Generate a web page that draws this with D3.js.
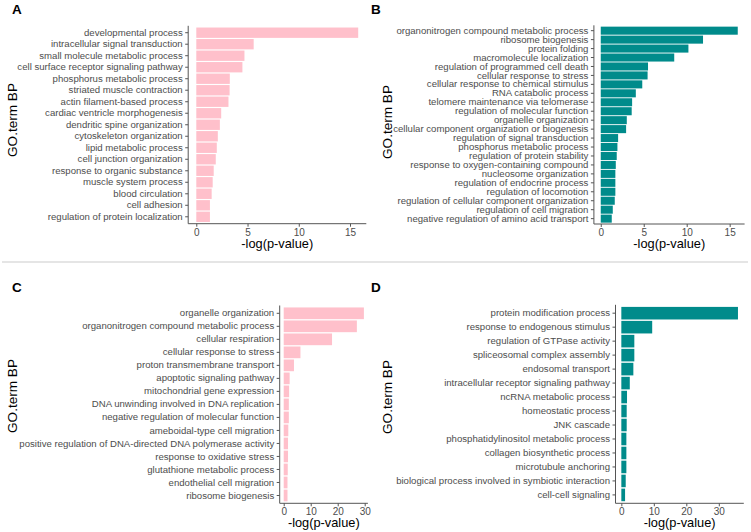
<!DOCTYPE html>
<html>
<head>
<meta charset="utf-8">
<script src="https://cdn.jsdelivr.net/npm/d3@7"></script>
<style>
  html, body { margin: 0; padding: 0; background: #fff; }
  svg { display: block; font-family: "Liberation Sans", Arial, sans-serif; }
</style>
</head>
<body>
<svg id="chart" width="751" height="532"></svg>
<script>
// ---- Data ----
const termsA = ["developmental process","intracellular signal transduction","small molecule metabolic process","cell surface receptor signaling pathway","phosphorus metabolic process","striated muscle contraction","actin filament-based process","cardiac ventricle morphogenesis","dendritic spine organization","cytoskeleton organization","lipid metabolic process","cell junction organization","response to organic substance","muscle system process","blood circulation","cell adhesion","regulation of protein localization"];
const valuesA = [15.8, 5.6, 4.7, 4.5, 3.27, 3.25, 3.14, 2.43, 2.3, 2.1, 2.0, 1.9, 1.7, 1.6, 1.5, 1.33, 1.33];

const termsB = ["organonitrogen compound metabolic process","ribosome biogenesis","protein folding","macromolecule localization","regulation of programmed cell death","cellular response to stress","cellular response to chemical stimulus","RNA catabolic process","telomere maintenance via telomerase","regulation of molecular function","organelle organization","cellular component organization or biogenesis","regulation of signal transduction","phosphorus metabolic process","regulation of protein stability","response to oxygen-containing compound","nucleosome organization","regulation of endocrine process","regulation of locomotion","regulation of cellular component organization","regulation of cell migration","negative regulation of amino acid transport"];
const valuesB = [15.94, 11.9, 10.2, 8.55, 5.5, 5.45, 4.83, 4.08, 3.65, 3.6, 3.03, 2.95, 2.02, 1.94, 1.86, 1.75, 1.7, 1.7, 1.7, 1.63, 1.4, 1.28];

const termsC = ["organelle organization","organonitrogen compound metabolic process","cellular respiration","cellular response to stress","proton transmembrane transport","apoptotic signaling pathway","mitochondrial gene expression","DNA unwinding involved in DNA replication","negative regulation of molecular function","ameboidal-type cell migration","positive regulation of DNA-directed DNA polymerase activity","response to oxidative stress","glutathione metabolic process","endothelial cell migration","ribosome biogenesis"];
const valuesC = [29.7, 27.1, 17.9, 6.2, 3.8, 2.2, 2.0, 1.9, 1.9, 1.7, 1.6, 1.6, 1.5, 1.4, 1.4];

const termsD = ["protein modification process","response to endogenous stimulus","regulation of GTPase activity","spliceosomal complex assembly","endosomal transport","intracellular receptor signaling pathway","ncRNA metabolic process","homeostatic process","JNK cascade","phosphatidylinositol metabolic process","collagen biosynthetic process","microtubule anchoring","biological process involved in symbiotic interaction","cell-cell signaling"];
const valuesD = [35.9, 9.5, 4.0, 4.0, 3.7, 2.6, 1.75, 1.65, 1.65, 1.55, 1.55, 1.55, 1.35, 1.15];

const ticksA = [0, 5, 10, 15];
const ticksB = [0, 5, 10, 15];
const ticksC = [0, 10, 20, 30];
const ticksD = [0, 10, 20, 30];

const PINK = "#FFC0CB", TEAL = "#008B8B";

// ---- Layout ----
const panels = [
  {letter:"A", terms:termsA, values:valuesA, ticks:ticksA, color:PINK,
   left:188.2, right:366.3, top:25.8, bottom:223.7, lx:12, ly:13.5, ytx:12.5, yty:120},
  {letter:"B", terms:termsB, values:valuesB, ticks:ticksB, color:TEAL,
   left:593.9, right:744.6, top:25.3, bottom:224, lx:371, ly:13.5, ytx:387.5, yty:122},
  {letter:"C", terms:termsC, values:valuesC, ticks:ticksC, color:PINK,
   left:279.7, right:367.9, top:305.5, bottom:503.3, lx:12, ly:292, ytx:12.5, yty:396},
  {letter:"D", terms:termsD, values:valuesD, ticks:ticksD, color:TEAL,
   left:615.5, right:743.8, top:304.8, bottom:503.3, lx:371, ly:292, ytx:387.5, yty:397}
];

const svg = d3.select("#chart");
const AXIS_COL = "#555555", TXT_COL = "#4D4D4D";

// separator line
svg.append("line").attr("x1", 2).attr("x2", 748).attr("y1", 262).attr("y2", 262)
  .attr("stroke", "#dcdcdc").attr("stroke-width", 1.5);

panels.forEach(p => {
  const g = svg.append("g");
  const maxV = d3.max(p.values);
  const x = d3.scaleLinear().domain([-0.05 * maxV, 1.05 * maxV]).range([p.left, p.right]);
  const y = d3.scaleBand().domain(p.terms).range([p.top, p.bottom]).paddingInner(0.1).paddingOuter(0.15);

  // bars
  g.selectAll("rect").data(p.terms).join("rect")
    .attr("x", x(0))
    .attr("y", d => y(d))
    .attr("width", (d, i) => x(p.values[i]) - x(0))
    .attr("height", y.bandwidth())
    .attr("fill", p.color);

  // y axis
  const yAxis = d3.axisLeft(y).tickSize(3).tickPadding(2.5);
  const yg = g.append("g").attr("transform", `translate(${p.left},0)`).call(yAxis);
  yg.select(".domain").attr("stroke", AXIS_COL).attr("d", `M0,${p.top}V${p.bottom}`);
  yg.selectAll(".tick line").attr("stroke", AXIS_COL);
  yg.selectAll(".tick text").attr("fill", TXT_COL).style("font-size", "9.6px")
    .style("font-family", "'Liberation Sans', Arial, sans-serif");

  // x axis
  const xAxis = d3.axisBottom(x).tickValues(p.ticks).tickSize(3).tickPadding(2).tickFormat(d3.format("d"));
  const xg = g.append("g").attr("transform", `translate(0,${p.bottom})`).call(xAxis);
  xg.select(".domain").attr("stroke", AXIS_COL).attr("d", `M${p.left},0H${p.right}`);
  xg.selectAll(".tick line").attr("stroke", AXIS_COL);
  xg.selectAll(".tick text").attr("fill", TXT_COL).style("font-size", "10px")
    .style("font-family", "'Liberation Sans', Arial, sans-serif");

  // x title
  g.append("text")
    .attr("x", (p.left + p.right) / 2)
    .attr("y", p.bottom + 24)
    .attr("text-anchor", "middle")
    .attr("fill", "#000")
    .style("font-size", "12.8px")
    .text("-log(p-value)");

  // y title
  g.append("text")
    .attr("transform", `translate(${p.ytx + 4.5},${p.yty}) rotate(-90)`)
    .attr("text-anchor", "middle")
    .attr("fill", "#000")
    .style("font-size", "13.6px")
    .text("GO.term BP");

  // panel letter
  g.append("text")
    .attr("x", p.lx).attr("y", p.ly)
    .attr("fill", "#000")
    .style("font-size", "13.5px").style("font-weight", "bold")
    .text(p.letter);
});
</script>
</body>
</html>
